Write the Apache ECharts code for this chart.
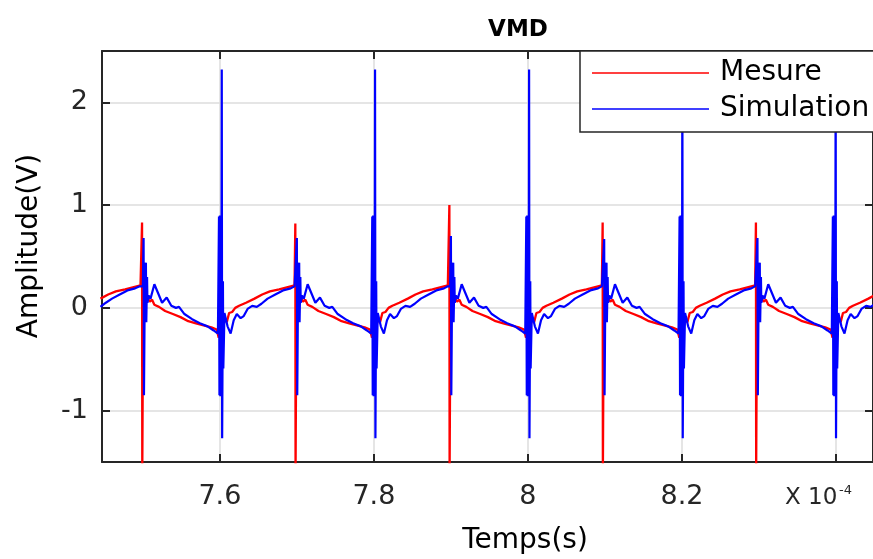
<!DOCTYPE html>
<html>
<head>
<meta charset="utf-8">
<script src="https://cdn.jsdelivr.net/npm/echarts@6/dist/echarts.min.js"></script>
<style>html,body{margin:0;padding:0;background:#fff;}#c{width:873px;height:559px;}</style>
</head>
<body>
<div id="c"></div>
<script>
// x values in units of 1e-4 s
const xTicks = [7.6, 7.8, 8, 8.2, 8.4];
const xLabels = [7.6, 7.8, 8, 8.2];
const yTicks = [-1, 0, 1, 2];
const seriesNames = ['Mesure', 'Simulation'];

const mesureEdge = [[7.445,0.09],[7.455,0.13],[7.465,0.16],[7.477,0.18],[7.487,0.20],[7.497,0.22]];
const mesureP1 = [[7.4990,0.83],[7.4993,-1.6],[7.5005,0.17],[7.5030,0.14],[7.5060,0.10],[7.5090,0.06],[7.5120,0.08],[7.5150,0.03],[7.5210,0.01],[7.5290,-0.03],[7.5390,-0.06],[7.5490,-0.09],[7.5590,-0.13],[7.5690,-0.15],[7.5790,-0.17],[7.5890,-0.19],[7.5960,-0.21],[7.5985,-0.29],[7.6000,-0.14],[7.6025,-0.25],[7.6065,-0.10],[7.6090,-0.14],[7.6120,-0.05],[7.6160,-0.04],[7.6200,0.00],[7.6250,0.02],[7.6340,0.05],[7.6450,0.09],[7.6550,0.13],[7.6650,0.16],[7.6770,0.18],[7.6870,0.20],[7.6970,0.22]];
const mesureP2 = [[7.6980,0.82],[7.6983,-1.6],[7.6995,0.17],[7.7020,0.14],[7.7050,0.10],[7.7080,0.06],[7.7110,0.08],[7.7140,0.03],[7.7200,0.01],[7.7280,-0.03],[7.7380,-0.06],[7.7480,-0.09],[7.7580,-0.13],[7.7680,-0.15],[7.7780,-0.17],[7.7880,-0.19],[7.7950,-0.21],[7.7975,-0.29],[7.7990,-0.14],[7.8015,-0.25],[7.8055,-0.10],[7.8080,-0.14],[7.8110,-0.05],[7.8150,-0.04],[7.8190,0.00],[7.8240,0.02],[7.8330,0.05],[7.8440,0.09],[7.8540,0.13],[7.8640,0.16],[7.8760,0.18],[7.8860,0.20],[7.8960,0.22]];
const mesureP3 = [[7.8980,1.0],[7.8983,-1.6],[7.8995,0.17],[7.9020,0.14],[7.9050,0.10],[7.9080,0.06],[7.9110,0.08],[7.9140,0.03],[7.9200,0.01],[7.9280,-0.03],[7.9380,-0.06],[7.9480,-0.09],[7.9580,-0.13],[7.9680,-0.15],[7.9780,-0.17],[7.9880,-0.19],[7.9950,-0.21],[7.9975,-0.29],[7.9990,-0.14],[8.0015,-0.25],[8.0055,-0.10],[8.0080,-0.14],[8.0110,-0.05],[8.0150,-0.04],[8.0190,0.00],[8.0240,0.02],[8.0330,0.05],[8.0440,0.09],[8.0540,0.13],[8.0640,0.16],[8.0760,0.18],[8.0860,0.20],[8.0960,0.22]];
const mesureP4 = [[8.0970,0.83],[8.0973,-1.6],[8.0985,0.17],[8.1010,0.14],[8.1040,0.10],[8.1070,0.06],[8.1100,0.08],[8.1130,0.03],[8.1190,0.01],[8.1270,-0.03],[8.1370,-0.06],[8.1470,-0.09],[8.1570,-0.13],[8.1670,-0.15],[8.1770,-0.17],[8.1870,-0.19],[8.1940,-0.21],[8.1965,-0.29],[8.1980,-0.14],[8.2005,-0.25],[8.2045,-0.10],[8.2070,-0.14],[8.2100,-0.05],[8.2140,-0.04],[8.2180,0.00],[8.2230,0.02],[8.2320,0.05],[8.2430,0.09],[8.2530,0.13],[8.2630,0.16],[8.2750,0.18],[8.2850,0.20],[8.2950,0.22]];
const mesureP5 = [[8.2960,0.83],[8.2963,-1.6],[8.2975,0.17],[8.3000,0.14],[8.3030,0.10],[8.3060,0.06],[8.3090,0.08],[8.3120,0.03],[8.3180,0.01],[8.3260,-0.03],[8.3360,-0.06],[8.3460,-0.09],[8.3560,-0.13],[8.3660,-0.15],[8.3760,-0.17],[8.3860,-0.19],[8.3930,-0.21],[8.3955,-0.29],[8.3970,-0.14],[8.3995,-0.25],[8.4035,-0.10],[8.4060,-0.14],[8.4090,-0.05],[8.4130,-0.04],[8.4170,0.00],[8.4220,0.02],[8.4310,0.05],[8.4420,0.09],[8.4520,0.13]];

const simEdge = [[7.445,0.01],[7.452,0.05],[7.460,0.09],[7.470,0.13],[7.480,0.17],[7.490,0.19],[7.496,0.21]];
const simP1 = [[7.5000,0.21],[7.5010,0.68],[7.5015,-0.85],[7.5025,0.15],[7.5040,0.44],[7.5045,-0.14],[7.5055,0.30],[7.5060,0.05],[7.5075,0.12],[7.5100,0.09],[7.5150,0.23],[7.5200,0.14],[7.5250,0.05],[7.5310,0.10],[7.5370,0.02],[7.5430,0.00],[7.5470,0.01],[7.5540,-0.06],[7.5640,-0.11],[7.5740,-0.15],[7.5840,-0.18],[7.5920,-0.22],[7.5975,-0.25],[7.5989,0.89],[7.5995,-0.85],[7.6001,0.90],[7.6007,-0.86],[7.6013,0.88],[7.6019,-0.84],[7.6025,2.32],[7.6030,-1.27],[7.6040,0.26],[7.6045,-0.59],[7.6060,-0.05],[7.6075,-0.06],[7.6100,-0.18],[7.6140,-0.25],[7.6180,-0.12],[7.6220,-0.06],[7.6270,-0.10],[7.6310,-0.08],[7.6360,-0.01],[7.6420,0.02],[7.6480,0.01],[7.6540,0.04],[7.6620,0.09],[7.6720,0.13],[7.6820,0.17],[7.6920,0.19],[7.6970,0.21]];
const simP2 = [[7.6990,0.21],[7.7000,0.68],[7.7005,-0.85],[7.7015,0.15],[7.7030,0.44],[7.7035,-0.14],[7.7045,0.30],[7.7050,0.05],[7.7065,0.12],[7.7090,0.09],[7.7140,0.23],[7.7190,0.14],[7.7240,0.05],[7.7300,0.10],[7.7360,0.02],[7.7420,0.00],[7.7460,0.01],[7.7530,-0.06],[7.7630,-0.11],[7.7730,-0.15],[7.7830,-0.18],[7.7910,-0.22],[7.7965,-0.25],[7.7979,0.89],[7.7985,-0.85],[7.7991,0.90],[7.7997,-0.86],[7.8003,0.88],[7.8009,-0.84],[7.8015,2.32],[7.8020,-1.27],[7.8030,0.26],[7.8035,-0.59],[7.8050,-0.05],[7.8065,-0.06],[7.8090,-0.18],[7.8130,-0.25],[7.8170,-0.12],[7.8210,-0.06],[7.8260,-0.10],[7.8300,-0.08],[7.8350,-0.01],[7.8410,0.02],[7.8470,0.01],[7.8530,0.04],[7.8610,0.09],[7.8710,0.13],[7.8810,0.17],[7.8910,0.19],[7.8960,0.21]];
const simP3 = [[7.8990,0.21],[7.9000,0.70],[7.9005,-0.85],[7.9015,0.15],[7.9030,0.44],[7.9035,-0.14],[7.9045,0.30],[7.9050,0.05],[7.9065,0.12],[7.9090,0.09],[7.9140,0.23],[7.9190,0.14],[7.9240,0.05],[7.9300,0.10],[7.9360,0.02],[7.9420,0.00],[7.9460,0.01],[7.9530,-0.06],[7.9630,-0.11],[7.9730,-0.15],[7.9830,-0.18],[7.9910,-0.22],[7.9965,-0.25],[7.9979,0.89],[7.9985,-0.85],[7.9991,0.90],[7.9997,-0.86],[8.0003,0.88],[8.0009,-0.84],[8.0015,2.32],[8.0020,-1.27],[8.0030,0.26],[8.0035,-0.59],[8.0050,-0.05],[8.0065,-0.06],[8.0090,-0.18],[8.0130,-0.25],[8.0170,-0.12],[8.0210,-0.06],[8.0260,-0.10],[8.0300,-0.08],[8.0350,-0.01],[8.0410,0.02],[8.0470,0.01],[8.0530,0.04],[8.0610,0.09],[8.0710,0.13],[8.0810,0.17],[8.0910,0.19],[8.0960,0.21]];
const simP4 = [[8.0980,0.21],[8.0990,0.67],[8.0995,-0.85],[8.1005,0.15],[8.1020,0.44],[8.1025,-0.14],[8.1035,0.30],[8.1040,0.05],[8.1055,0.12],[8.1080,0.09],[8.1130,0.23],[8.1180,0.14],[8.1230,0.05],[8.1290,0.10],[8.1350,0.02],[8.1410,0.00],[8.1450,0.01],[8.1520,-0.06],[8.1620,-0.11],[8.1720,-0.15],[8.1820,-0.18],[8.1900,-0.22],[8.1955,-0.25],[8.1969,0.89],[8.1975,-0.85],[8.1981,0.90],[8.1987,-0.86],[8.1993,0.88],[8.1999,-0.84],[8.2005,2.32],[8.2010,-1.27],[8.2020,0.26],[8.2025,-0.59],[8.2040,-0.05],[8.2055,-0.06],[8.2080,-0.18],[8.2120,-0.25],[8.2160,-0.12],[8.2200,-0.06],[8.2250,-0.10],[8.2290,-0.08],[8.2340,-0.01],[8.2400,0.02],[8.2460,0.01],[8.2520,0.04],[8.2600,0.09],[8.2700,0.13],[8.2800,0.17],[8.2900,0.19],[8.2950,0.21]];
const simP5 = [[8.2970,0.21],[8.2980,0.68],[8.2985,-0.85],[8.2995,0.15],[8.3010,0.44],[8.3015,-0.14],[8.3025,0.30],[8.3030,0.05],[8.3045,0.12],[8.3070,0.09],[8.3120,0.23],[8.3170,0.14],[8.3220,0.05],[8.3280,0.10],[8.3340,0.02],[8.3400,0.00],[8.3440,0.01],[8.3510,-0.06],[8.3610,-0.11],[8.3710,-0.15],[8.3810,-0.18],[8.3890,-0.22],[8.3945,-0.25],[8.3959,0.89],[8.3965,-0.85],[8.3971,0.90],[8.3977,-0.86],[8.3983,0.88],[8.3989,-0.84],[8.3995,2.32],[8.4000,-1.27],[8.4010,0.26],[8.4015,-0.59],[8.4030,-0.05],[8.4045,-0.06],[8.4070,-0.18],[8.4110,-0.25],[8.4150,-0.12],[8.4190,-0.06],[8.4240,-0.10],[8.4280,-0.08],[8.4330,-0.01],[8.4390,0.02],[8.4450,0.01],[8.4510,0.04]];

const mesure = [].concat(mesureEdge, mesureP1, mesureP2, mesureP3, mesureP4, mesureP5);
const simulation = [].concat(simEdge, simP1, simP2, simP3, simP4, simP5);

const FONT = 'DejaVu Sans';
const AX = '#262626';
const X_MIN = 7.447, X_MAX = 8.448, Y_MIN = -1.5, Y_MAX = 2.5;

function xAxisCfg(pos, showLabel) {
  return {
    type: 'value', position: pos, min: X_MIN, max: X_MAX,
    axisLine: { show: true, onZero: false, lineStyle: { color: AX, width: 2 } },
    axisTick: { show: true, inside: true, length: 8, customValues: xTicks, lineStyle: { color: AX, width: 2 } },
    axisLabel: { show: showLabel, customValues: xLabels, color: AX, fontFamily: FONT, fontSize: 27, margin: 21 },
    splitLine: { show: showLabel, lineStyle: { color: '#dcdcdc', width: 1.5 } }
  };
}
function yAxisCfg(pos, showLabel) {
  return {
    type: 'value', position: pos, min: Y_MIN, max: Y_MAX,
    axisLine: { show: true, onZero: false, lineStyle: { color: AX, width: 2 } },
    axisTick: { show: true, inside: true, length: 8, customValues: yTicks, lineStyle: { color: AX, width: 2 } },
    axisLabel: { show: showLabel, customValues: yTicks, color: AX, fontFamily: FONT, fontSize: 27, margin: 14 },
    splitLine: { show: showLabel, lineStyle: { color: '#dcdcdc', width: 1.5 } }
  };
}

const chart = echarts.init(document.getElementById('c'), null, { renderer: 'canvas' });
chart.setOption({
  animation: false,
  backgroundColor: '#fff',
  grid: { left: 102, right: 0, top: 51, bottom: 97, containLabel: false, outerBoundsMode: 'none' },
  xAxis: [xAxisCfg('bottom', true), xAxisCfg('top', false)],
  yAxis: [yAxisCfg('left', true), yAxisCfg('right', false)],
  legend: {
    orient: 'vertical', left: 580, top: 51, align: 'left',
    data: [{ name: seriesNames[0], icon: 'rect' }, { name: seriesNames[1], icon: 'rect' }],
    itemWidth: 117, itemHeight: 1.5, itemGap: 6,
    padding: [7, 40, 8, 12],
    backgroundColor: '#fff', borderColor: AX, borderWidth: 1.5, borderRadius: 0,
    textStyle: { color: '#000', fontFamily: FONT, fontSize: 28, lineHeight: 30, padding: [0, 0, 0, 6] },
    selectedMode: false, z: 10
  },
  graphic: [
    { type: 'text', style: { text: 'VMD', x: 518, y: 30, align: 'center', verticalAlign: 'middle', font: 'bold 23px "DejaVu Sans"', fill: '#000' } },
    { type: 'text', style: { text: 'Temps(s)', x: 525, y: 541, align: 'center', verticalAlign: 'middle', font: '28px "DejaVu Sans"', fill: '#000' } },
    { type: 'text', x: 30, y: 246, rotation: Math.PI / 2, style: { text: 'Amplitude(V)', x: 0, y: 0, align: 'center', verticalAlign: 'middle', font: '28px "DejaVu Sans"', fill: '#000' } },
    { type: 'text', style: { text: 'X 10', x: 785, y: 498, align: 'left', verticalAlign: 'middle', font: '23px "DejaVu Sans"', fill: AX } },
    { type: 'text', style: { text: '-4', x: 839, y: 491, align: 'left', verticalAlign: 'middle', font: '13px "DejaVu Sans"', fill: AX } }
  ],
  series: [
    { name: seriesNames[0], type: 'line', data: mesure, xAxisIndex: 0, yAxisIndex: 0, showSymbol: false, symbol: 'none', clip: true,
      lineStyle: { color: '#ff0000', width: 2.3 }, itemStyle: { color: '#ff0000' }, z: 2 },
    { name: seriesNames[1], type: 'line', data: simulation, xAxisIndex: 0, yAxisIndex: 0, showSymbol: false, symbol: 'none', clip: true,
      lineStyle: { color: '#0000ff', width: 2.2 }, itemStyle: { color: '#0000ff' }, z: 3 }
  ]
});
</script>
</body>
</html>
